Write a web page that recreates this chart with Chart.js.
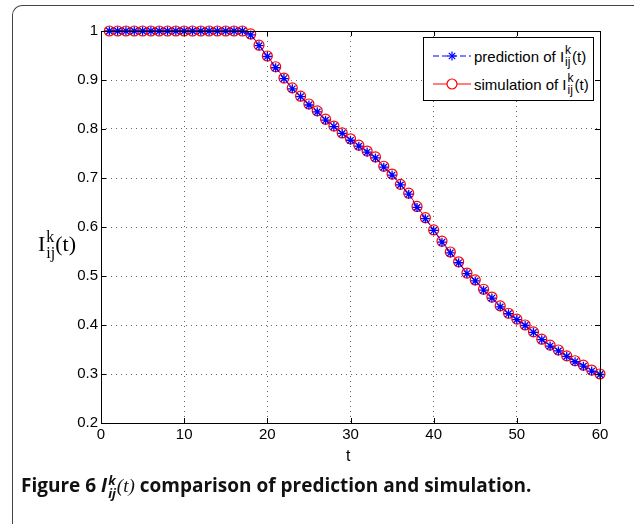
<!DOCTYPE html>
<html>
<head>
<meta charset="utf-8">
<script src="https://cdn.jsdelivr.net/npm/chart.js@4"></script>
<style>
  body { margin: 0; width: 634px; height: 524px; overflow: hidden; background: #fff; position: relative; }
  #frame { position: absolute; left: 12px; top: 5px; width: 700px; height: 560px;
           border-left: 1px solid #444; border-top: 1px solid #444; border-top-left-radius: 10px; }
  #wrap { position: absolute; left: 0; top: 0; width: 634px; height: 524px; }
  .stack { display: inline-flex; flex-direction: column; vertical-align: middle; line-height: 1; }
  #ylab { position: absolute; left: 38px; top: 230px; font: 22px "Liberation Serif"; color: #000; white-space: nowrap; }
  #ylab .stack { font-size: 16px; margin-left: 1px; position: relative; top: -1px; }
  #xlab { position: absolute; left: 346px; top: 447px; font: 16px "Liberation Sans"; }
  #legend { position: absolute; left: 423px; top: 37px; width: 169px; height: 62px;
            border: 1px solid #000; background: #fff; font: 15px "Liberation Sans"; }
  .row { position: absolute; left: 8px; height: 24px; display: flex; align-items: center; white-space: nowrap; }
  .row svg { margin-right: 2px; }
  .row .stack { font-size: 12px; margin: 0 1px; }
  #caption { position: absolute; left: 21px; top: 472px; font: bold 19px "Open Sans"; white-space: nowrap; color: #111; }
  #caption .stack { font-size: 13px; font-style: italic; margin: 0 1px; }
</style>
</head>
<body>
<div id="frame"></div>
<div id="wrap"><canvas id="myChart" width="634" height="524"></canvas></div>
<div id="ylab">I<span class="stack"><span>k</span><span>ij</span></span>(t)</div>
<div id="xlab">t</div>
<div id="legend">
  <div class="row" style="top:6px">
    <svg width="40" height="14"><line x1="1" y1="7" x2="39" y2="7" stroke="#00f" stroke-width="1" stroke-dasharray="6,3"/>
      <g stroke="#00f" stroke-width="1.2"><line x1="20" y1="2.5" x2="20" y2="11.5"/><line x1="15.5" y1="7" x2="24.5" y2="7"/><line x1="16.8" y1="3.8" x2="23.2" y2="10.2"/><line x1="16.8" y1="10.2" x2="23.2" y2="3.8"/></g></svg>
    <span>prediction of I</span><span class="stack"><span>k</span><span>ij</span></span><span>(t)</span>
  </div>
  <div class="row" style="top:34px">
    <svg width="40" height="14"><line x1="1" y1="7" x2="39" y2="7" stroke="#f00" stroke-width="1"/>
      <circle cx="20" cy="7" r="5" fill="#fff" stroke="#f00" stroke-width="1.2"/></svg>
    <span>simulation of I</span><span class="stack"><span>k</span><span>ij</span></span><span>(t)</span>
  </div>
</div>
<div id="caption">Figure 6 <i>I</i><span class="stack"><span>k</span><span>ij</span></span><span style="font: italic 19px 'Liberation Serif'">(t)</span> comparison of prediction and simulation.</div>
<script>
let tValues = [1, 2, 3, 4, 5, 6, 7, 8, 9, 10, 11, 12, 13, 14, 15, 16, 17, 18, 19, 20,
  21, 22, 23, 24, 25, 26, 27, 28, 29, 30, 31, 32, 33, 34, 35, 36, 37, 38, 39, 40,
  41, 42, 43, 44, 45, 46, 47, 48, 49, 50, 51, 52, 53, 54, 55, 56, 57, 58, 59, 60]

let simulation = [1, 1, 1, 1, 1, 1, 1, 1, 1, 1, 1, 1, 1, 1, 1, 1, 1, 0.994, 0.971, 0.949,
  0.927, 0.904, 0.884, 0.867, 0.851, 0.837, 0.820, 0.806, 0.792, 0.780,
  0.767, 0.755, 0.743, 0.724, 0.708, 0.687, 0.669, 0.642, 0.619, 0.594,
  0.571, 0.549, 0.529, 0.506, 0.492, 0.473, 0.457, 0.439, 0.424, 0.412,
  0.400, 0.386, 0.371, 0.359, 0.349, 0.337, 0.327, 0.318, 0.308, 0.300]

let prediction = [1, 1, 1, 1, 1, 1, 1, 1, 1, 1, 1, 1, 1, 1, 1, 1, 1, 0.992, 0.970, 0.948,
  0.925, 0.903, 0.882, 0.866, 0.849, 0.835, 0.818, 0.805, 0.791, 0.777,
  0.765, 0.753, 0.741, 0.722, 0.706, 0.686, 0.667, 0.640, 0.617, 0.593,
  0.569, 0.547, 0.527, 0.505, 0.490, 0.471, 0.455, 0.437, 0.423, 0.411,
  0.399, 0.385, 0.370, 0.357, 0.347, 0.336, 0.325, 0.316, 0.306, 0.299]

let xTicks = [0, 10, 20, 30, 40, 50, 60]
let yTicks = [0.2, 0.3, 0.4, 0.5, 0.6, 0.7, 0.8, 0.9, 1]

function pts(vals) {
    return tValues.map((t, i) => ({ x: t, y: vals[i] }))
}

// box round the plot and inward tick marks, like matlab
let boxPlugin = {
    id: 'box',
    afterDraw(chart) {
        let ctx = chart.ctx
        let a = chart.chartArea
        let xs = chart.scales.x, ys = chart.scales.y
        ctx.save()
        ctx.strokeStyle = '#000'
        ctx.lineWidth = 1
        ctx.strokeRect(Math.round(a.left) + 0.5, Math.round(a.top) + 0.5,
            Math.round(a.right - a.left), Math.round(a.bottom - a.top))
        ctx.beginPath()
        xTicks.forEach(v => {
            let px = Math.round(xs.getPixelForValue(v)) + 0.5
            ctx.moveTo(px, a.bottom); ctx.lineTo(px, a.bottom - 5)
            ctx.moveTo(px, a.top); ctx.lineTo(px, a.top + 5)
        })
        yTicks.forEach(v => {
            let py = Math.round(ys.getPixelForValue(v)) + 0.5
            ctx.moveTo(a.left, py); ctx.lineTo(a.left + 5, py)
            ctx.moveTo(a.right, py); ctx.lineTo(a.right - 5, py)
        })
        ctx.stroke()
        ctx.restore()
    }
}

let dataset = {
    datasets: [{
        label: 'prediction',
        data: pts(prediction),
        borderColor: '#0000ff',
        backgroundColor: '#0000ff',
        borderWidth: 1,
        borderDash: [5, 3],
        pointStyle: 'star',
        pointRadius: 4.5,
        pointBorderWidth: 1.3,
        pointBorderColor: '#0000ff',
        clip: false
    }, {
        label: 'simulation',
        data: pts(simulation),
        borderColor: '#ff0000',
        backgroundColor: 'rgba(0,0,0,0)',
        borderWidth: 1,
        pointStyle: 'circle',
        pointRadius: 5,
        pointBorderWidth: 1.2,
        pointBorderColor: '#ff0000',
        clip: false
    }]
}

let config = {
    type: 'line',
    data: dataset,
    plugins: [boxPlugin],
    options: {
        responsive: false,
        animation: false,
        layout: { padding: { left: 0, right: 34, top: 31, bottom: 0 } },
        plugins: { legend: { display: false }, tooltip: { enabled: false } },
        scales: {
            x: {
                type: 'linear', min: 0, max: 60,
                afterFit: s => { s.height = 101 },
                afterBuildTicks: s => { s.ticks = xTicks.map(v => ({ value: v })) },
                ticks: { color: '#000', font: { family: 'Liberation Sans', size: 15 }, padding: 3, maxRotation: 0 },
                grid: { color: 'rgba(0,0,0,0.6)', drawTicks: false },
                border: { display: false, dash: [1, 4] }
            },
            y: {
                type: 'linear', min: 0.2, max: 1,
                afterFit: s => { s.width = 101 },
                afterBuildTicks: s => { s.ticks = yTicks.map(v => ({ value: v })) },
                ticks: { color: '#000', font: { family: 'Liberation Sans', size: 15 }, padding: 3,
                    callback: v => String(+v.toFixed(1)) },
                grid: { color: 'rgba(0,0,0,0.6)', drawTicks: false },
                border: { display: false, dash: [1, 4] }
            }
        }
    }
}

let myChart = new Chart(document.getElementById('myChart'), config)
</script>
</body>
</html>
